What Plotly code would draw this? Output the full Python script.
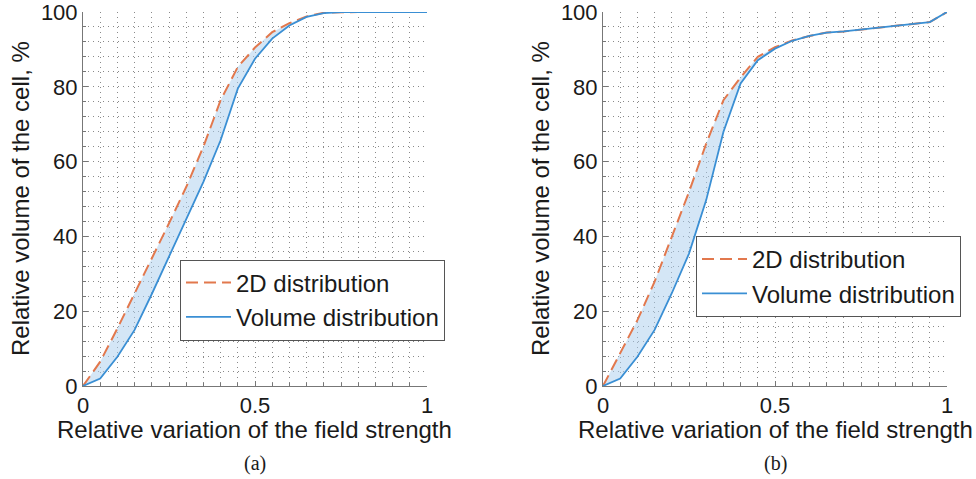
import plotly.graph_objects as go

# ---- data ----
x_a = [0, 0.05, 0.1, 0.15, 0.2, 0.25, 0.3, 0.35, 0.4, 0.45, 0.5, 0.55, 0.6, 0.65, 0.7, 0.75, 0.8, 0.85, 0.9, 0.95, 1.0]
d2_a = [0, 6.5, 15.4, 24.8, 33.9, 43.5, 53.2, 64.0, 76.4, 85.3, 90.5, 94.6, 97.0, 98.8, 99.8, 100, 100, 100, 100, 100, 100]
vol_a = [0, 2.0, 7.8, 15.0, 24.6, 34.5, 44.3, 54.6, 65.7, 79.5, 87.5, 92.9, 96.4, 98.7, 99.7, 100, 100, 100, 100, 100, 100]

x_b = [0, 0.05, 0.1, 0.15, 0.2, 0.25, 0.3, 0.35, 0.4, 0.45, 0.5, 0.55, 0.6, 0.65, 0.7, 0.75, 0.8, 0.85, 0.9, 0.95, 1.0]
d2_b = [0, 8.7, 17.6, 27.9, 39.9, 51.9, 64.8, 76.4, 82.5, 88.0, 90.6, 92.4, 93.6, 94.5, 94.8, 95.3, 95.8, 96.3, 96.7, 97.3, 100]
vol_b = [0, 2.0, 7.8, 15.0, 24.8, 35.4, 49.7, 67.9, 80.9, 87.1, 90.2, 92.3, 93.6, 94.5, 94.8, 95.3, 95.8, 96.3, 96.7, 97.3, 100]

x_ticks = [0, 0.5, 1]
x_ticklabels = ["0", "0.5", "1"]
y_ticks = [0, 20, 40, 60, 80, 100]

names = ["2D distribution", "Volume distribution"]
x_title = "Relative variation of the field strength"
y_title = "Relative volume of the cell, %"
captions = ["(a)", "(b)"]

# ---- style ----
ORANGE = "#e2784d"
BLUE = "#3a8fd4"
FILL = "rgba(170,205,237,0.5)"
FONT = "Liberation Sans, Arial, sans-serif"
GRID = "#8a8a8a"
TXT = "#1a1a1a"
FS = 24
TFS = 22

fig = go.Figure()

panels = [
    dict(x=x_a, d2=d2_a, vol=vol_a, xa="x", ya="y", leg="legend"),
    dict(x=x_b, d2=d2_b, vol=vol_b, xa="x2", ya="y2", leg="legend2"),
]

for p in panels:
    # shaded band between curves
    fig.add_trace(go.Scatter(
        x=list(p["x"]) + list(p["x"])[::-1],
        y=list(p["d2"]) + list(p["vol"])[::-1],
        fill="toself", fillcolor=FILL, line=dict(width=0),
        mode="lines", showlegend=False, hoverinfo="skip",
        xaxis=p["xa"], yaxis=p["ya"]))
    fig.add_trace(go.Scatter(
        x=p["x"], y=p["d2"], mode="lines", name=names[0],
        line=dict(color=ORANGE, width=2, dash="12px,6px"),
        xaxis=p["xa"], yaxis=p["ya"], legend=p["leg"]))
    fig.add_trace(go.Scatter(
        x=p["x"], y=p["vol"], mode="lines", name=names[1],
        line=dict(color=BLUE, width=1.8),
        xaxis=p["xa"], yaxis=p["ya"], legend=p["leg"]))

x_domains = [[83 / 976, 427 / 976], [603 / 976, 947 / 976]]
y_domain = [1 - 386 / 479, 1 - 12 / 479]

grid_common = dict(showgrid=True, gridcolor=GRID, griddash="1px,4px", gridwidth=1)

common_x = dict(
    range=[0, 1], tickvals=x_ticks, ticktext=x_ticklabels,
    **grid_common,
    minor=dict(dtick=0.05, ticks="inside", ticklen=3, tickcolor="#777", **grid_common),
    showline=True, linecolor="#777", linewidth=1,
    ticks="inside", ticklen=5, tickcolor="#777",
    zeroline=False, tickfont=dict(family=FONT, size=TFS, color=TXT),
    ticklabeloverflow="allow", fixedrange=True, automargin=False,
)
common_y = dict(
    range=[0, 100], tickvals=y_ticks,
    **grid_common,
    minor=dict(dtick=4, ticks="inside", ticklen=3, tickcolor="#777", **grid_common),
    showline=True, linecolor="#777", linewidth=1,
    ticks="inside", ticklen=5, tickcolor="#777",
    zeroline=False, tickfont=dict(family=FONT, size=TFS, color=TXT),
    ticklabeloverflow="allow", fixedrange=True, automargin=False,
)

legend_common = dict(xanchor="left", yanchor="middle",
                     bgcolor="white", bordercolor="#555", borderwidth=1,
                     font=dict(family=FONT, size=FS, color=TXT),
                     itemwidth=45, tracegroupgap=0)

fig.update_layout(
    width=976, height=479,
    margin=dict(l=0, r=0, t=0, b=0, autoexpand=False),
    paper_bgcolor="white", plot_bgcolor="white",
    font=dict(family=FONT, color=TXT),
    xaxis=dict(common_x, domain=x_domains[0], anchor="y"),
    yaxis=dict(common_y, domain=y_domain, anchor="x"),
    xaxis2=dict(common_x, domain=x_domains[1], anchor="y2"),
    yaxis2=dict(common_y, domain=y_domain, anchor="x2"),
    legend=dict(legend_common, x=180 / 976, y=1 - 300 / 479),
    legend2=dict(legend_common, x=696 / 976, y=1 - 276.5 / 479),
)

annotations = []
for i, (dom, cap) in enumerate(zip(x_domains, captions)):
    cx = (dom[0] + dom[1]) / 2
    annotations.append(dict(text=x_title, x=cx, y=1 - 429 / 479, xref="paper", yref="paper",
                            showarrow=False, xanchor="center", yanchor="middle",
                            font=dict(family=FONT, size=FS, color=TXT)))
    annotations.append(dict(text=y_title, x=dom[0] - 63 / 976, y=(y_domain[0] + y_domain[1]) / 2,
                            xref="paper", yref="paper", textangle=-90,
                            showarrow=False, xanchor="center", yanchor="middle",
                            font=dict(family=FONT, size=FS, color=TXT)))
    annotations.append(dict(text=cap, x=cx, y=1 - 463 / 479, xref="paper", yref="paper",
                            showarrow=False, xanchor="center", yanchor="middle",
                            font=dict(family="Liberation Serif, Times New Roman, serif", size=20,
                                      color=TXT)))
fig.update_layout(annotations=annotations)

fig.write_html("out.html")
